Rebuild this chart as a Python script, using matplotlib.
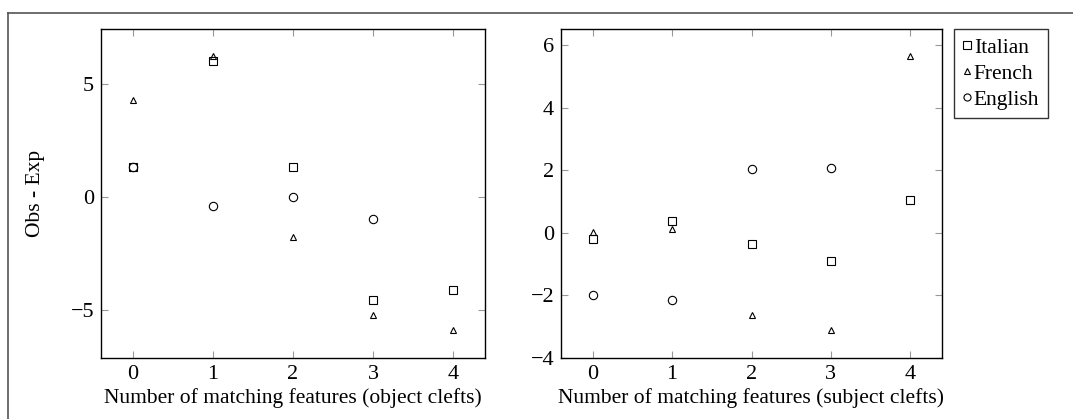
import numpy as np
import matplotlib
matplotlib.use("Agg")
import matplotlib.pyplot as plt
from matplotlib.ticker import MultipleLocator
from matplotlib.lines import Line2D

plt.rcParams['font.family'] = ['Liberation Serif', 'DejaVu Serif']

features = [0, 1, 2, 3, 4]
languages = ["Italian", "French", "English"]

# object clefts
obj_italian = [1.31, 6.02, 1.31, -4.57, -4.14]
obj_french = [4.29, 6.22, -1.76, -5.21, -5.91]
obj_english = [1.31, -0.40, 0.0, -0.99, np.nan]

# subject clefts
subj_italian = [-0.21, 0.39, -0.35, -0.91, 1.06]
subj_french = [0.03, 0.13, -2.61, -3.09, 5.65]
subj_english = [-1.98, -2.14, 2.05, 2.06, np.nan]

W, H = 1073, 419
FS = 15.5
TFS = 16
fig = plt.figure(figsize=(W / 100, H / 100), dpi=100)

def px(x0, y0, x1, y1):
    return [x0 / W, 1 - y1 / H, (x1 - x0) / W, (y1 - y0) / H]

ax1 = fig.add_axes(px(101, 29, 485, 358))
ax2 = fig.add_axes(px(561, 29, 942, 358))

styles = {
    "Italian": dict(marker='s', ms=6.2),
    "French": dict(marker='^', ms=4.8),
    "English": dict(marker='o', ms=6.0),
}

def draw(ax, series, xlabel, ystep, ylim):
    for lang, vals in zip(languages, series):
        st = styles[lang]
        ax.plot(features, vals, linestyle='none', marker=st['marker'], ms=st['ms'],
                mfc='none', mec='black', mew=0.8, label=lang)
    ax.set_xlim(-0.4, 4.4)
    ax.set_ylim(*ylim)
    ax.xaxis.set_major_locator(MultipleLocator(1))
    ax.yaxis.set_major_locator(MultipleLocator(ystep))
    ax.tick_params(direction='in', length=5, width=0.8, color='#999999',
                   top=True, right=True, labelsize=TFS, pad=5)
    for s in ax.spines.values():
        s.set_linewidth(1.0)
    ax.set_xlabel(xlabel, fontsize=FS, labelpad=3)
    ax.yaxis.set_major_formatter(matplotlib.ticker.FuncFormatter(
        lambda v, p: ('\u2212%d' % abs(v)) if v < 0 else '%d' % v))

draw(ax1, [obj_italian, obj_french, obj_english],
     "Number of matching features (object clefts)", 5, (-7.13, 7.42))
draw(ax2, [subj_italian, subj_french, subj_english],
     "Number of matching features (subject clefts)", 2, (-4.0, 6.52))
ax1.set_ylabel("Obs - Exp", fontsize=FS)
ax1.yaxis.set_label_coords((45 - 101) / 384, 0.5)

handles = [Line2D([], [], linestyle='none', marker=styles[l]['marker'],
                  ms=styles[l]['ms'] * 0.85, mfc='none', mec='black', mew=0.8)
           for l in languages]
leg = fig.legend(handles, languages, loc='upper left',
                 bbox_to_anchor=(954 / W, 1 - 29 / H), fontsize=FS,
                 frameon=True, fancybox=False, borderpad=0.4, labelspacing=0.28,
                 handlelength=0.4, handletextpad=0.12, borderaxespad=0)
leg.get_frame().set_edgecolor('black')
leg.get_frame().set_linewidth(1.0)

# outer frame (top and left edges)
fig.add_artist(Line2D([8 / W, 1.0], [1 - 13 / H, 1 - 13 / H], color='#555555', lw=1.2))
fig.add_artist(Line2D([8 / W, 8 / W], [0.0, 1 - 13 / H], color='#555555', lw=1.2))

fig.savefig("out.png", dpi=100)
